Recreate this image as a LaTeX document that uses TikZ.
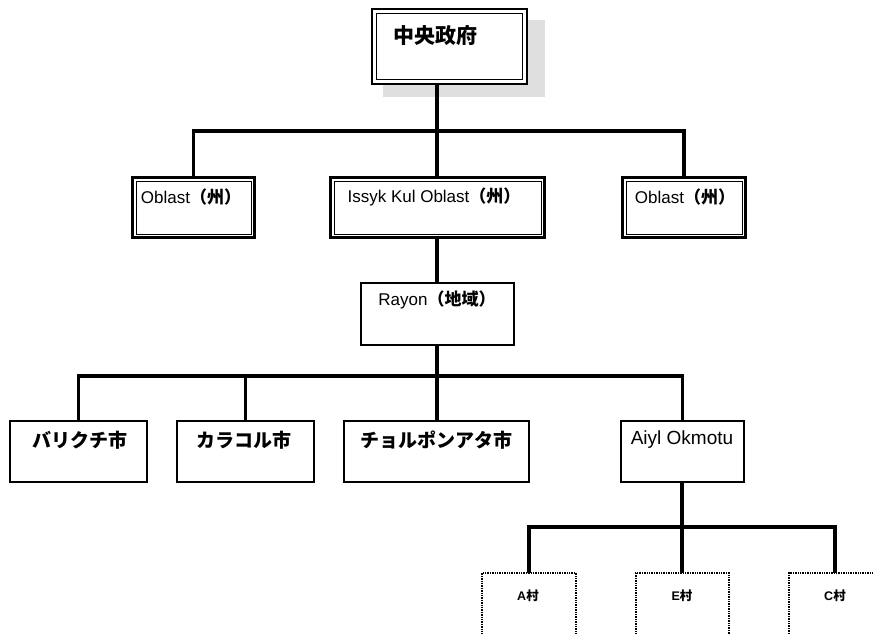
\documentclass[tikz,border=0pt]{standalone}
\usepackage{fontspec}
\setmainfont{Liberation Sans}
\newfontfamily\cjk{Noto Sans CJK JP}
\begin{document}
\begin{tikzpicture}[x=1pt,y=-1pt,
  box/.style={draw, line width=1.8pt, fill=white, inner sep=0pt, outer sep=0pt},
  obox/.style={draw, line width=2.4pt, fill=white, inner sep=0pt, outer sep=0pt},
  inner line/.style={line width=1pt},
  vbox/.style={draw, densely dotted, line width=1.4pt, inner sep=0pt, outer sep=0pt},
  conn/.style={line width=3.2pt},
  lbl/.style={inner sep=0pt, font=\fontsize{17}{19}\selectfont},
  lbl3/.style={inner sep=0pt, font=\fontsize{19}{21}\selectfont},
  lblv/.style={inner sep=0pt, font=\fontsize{12.5}{14}\selectfont\bfseries}
]
\useasboundingbox (0,0) rectangle (873,634);
\clip (0,0) rectangle (873,634);

% shadow of the top box
\fill[gray!25] (383,20) rectangle (545,97);

% boxes
\node[obox, line width=2.8pt, minimum width=155pt, minimum height=75pt] (top) at (449.5,46.5) {};
\node[obox, minimum width=122pt, minimum height=60pt] (obl1) at (193.5,207.5) {};
\node[obox, minimum width=214pt, minimum height=60pt] (issyk) at (437.5,207.5) {};
\node[obox, minimum width=123pt, minimum height=60pt] (obl3) at (684,207.5) {};
\node[box, line width=1.5pt, minimum width=153pt, minimum height=62pt] (rayon) at (437.5,314) {};
\node[box, minimum width=137pt, minimum height=61pt] (c1) at (78.5,451.5) {};
\node[box, minimum width=137pt, minimum height=61pt] (c2) at (245.5,451.5) {};
\node[box, minimum width=185pt, minimum height=61pt] (c3) at (436.5,451.5) {};
\node[box, minimum width=123pt, minimum height=61pt] (aiyl) at (682.5,451.5) {};
\node[vbox, minimum width=94pt, minimum height=90pt] (v1) at (529,618) {};
\node[vbox, minimum width=93pt, minimum height=90pt] (v2) at (682.5,618) {};
\node[vbox, minimum width=92pt, minimum height=90pt] (v3) at (835,618) {};

% inner lines of the double borders
\draw[inner line] ([shift={(4.5pt,-4.5pt)}]top.north west) rectangle ([shift={(-4.5pt,4.5pt)}]top.south east);
\foreach \b in {obl1,issyk,obl3}
  \draw[inner line] ([shift={(3.5pt,-3.5pt)}]\b.north west) rectangle ([shift={(-3.5pt,3.5pt)}]\b.south east);

% labels
\node[inner sep=0pt, font=\fontsize{21}{23}\selectfont\bfseries\cjk] (ttop) at (435,36) {中央政府};
\node[lbl] (tobl1) at (191,197) {Oblast{\cjk\bfseries （州）}};
\node[lbl] (tissyk) at (434,197) {Issyk Kul Oblast{\cjk\bfseries （州）}};
\node[lbl] (tobl3) at (685,197) {Oblast{\cjk\bfseries （州）}};
\node[lbl] (trayon) at (437,300) {Rayon{\cjk\bfseries （地域）}};
\node[lbl3] (tc1) at (80,440) {\cjk\bfseries バリクチ市};
\node[lbl3] (tc2) at (244,440) {\cjk\bfseries カラコル市};
\node[lbl3] (tc3) at (436,440) {\cjk\bfseries チョルポンアタ市};
\node[lbl3] (taiyl) at (682,440) {Aiyl Okmotu};
\node[lblv] (tv1) at (528,596) {A{\cjk 村}};
\node[lblv] (tv2) at (682,596) {E{\cjk 村}};
\node[lblv] (tv3) at (835,596) {C{\cjk 村}};

% connector junctions
\coordinate (b1) at (437,131);
\coordinate (b2) at (437,376);
\coordinate (b3) at (682,527);

% level 1
\draw[conn] (top.south -| b1) -- (b1);
\draw[conn] (obl1.north) |- (b1) -| (obl3.north);
\draw[conn] (b1) -- (issyk.north -| b1);
% level 2
\draw[conn] (issyk.south -| b1) -- (rayon.north -| b1);
\draw[conn] (rayon.south -| b2) -- (b2);
% level 3
\draw[conn] (c1.north) |- (b2) -| (aiyl.north);
\draw[conn] (c2.north) -- (c2.north |- b2);
\draw[conn] (b2) -- (c3.north -| b2);
% level 4
\draw[conn] (aiyl.south -| b3) -- (b3);
\draw[conn] (v1.north) |- (b3) -| (v3.north);
\draw[conn] (b3) -- (v2.north -| b3);
\end{tikzpicture}
\end{document}
